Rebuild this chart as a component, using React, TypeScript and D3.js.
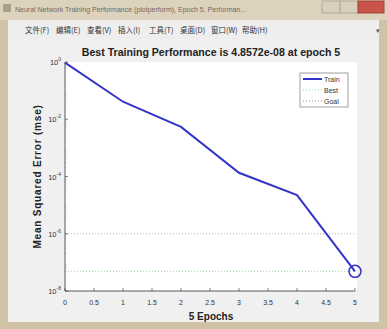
import React from 'react';
import * as d3 from 'd3';

// training record
const epochs = [0, 1, 2, 3, 4, 5];
const trainPerf = [0.95, 0.041, 5.4e-3, 1.35e-4, 2.24e-5, 4.8572e-8];
const bestEpoch = 5;
const bestPerf = 4.8572e-8;
const goalPerf = 1e-6;
const xTicks = [0, 0.5, 1, 1.5, 2, 2.5, 3, 3.5, 4, 4.5, 5];
const yTickExps = [0, -2, -4, -6, -8];
const legendItems = ['Train', 'Best', 'Goal'];
const menuItems = ['文件(F)', '编辑(E)', '查看(V)', '插入(I)', '工具(T)', '桌面(D)', '窗口(W)', '帮助(H)'];
const windowTitle = 'Neural Network Training Performance (plotperform), Epoch 5, Performan...';

const W = 387;
const H = 329;
const margin = { left: 65, right: 32, top: 62, bottom: 38 };

export default function App() {
  const x = d3.scaleLinear().domain([0, 5]).range([margin.left, W - margin.right]);
  const y = d3.scaleLog().domain([1e-8, 1]).range([H - margin.bottom, margin.top]);

  const line = d3.line<number>()
    .x((_, i) => x(epochs[i]))
    .y(d => y(d));

  const minor: number[] = [];
  for (let e = -8; e < 0; e++) {
    for (let k = 2; k < 10; k++) minor.push(k * Math.pow(10, e));
  }

  const [x0, x1] = x.range();
  const [yb, yt] = y.range();
  const trainColor = '#3434c8';

  return (
    <div style={{ position: 'fixed', left: 0, top: 0 }}>
      <svg width={W} height={H} style={{ display: 'block', fontFamily: 'Liberation Sans, Arial, sans-serif' }}>
        {/* window frame */}
        <rect x={0} y={0} width={W} height={H} fill="#cfc2a6" />
        <rect x={0} y={0} width={W} height={20} fill="#ddd2bd" />
        <rect x={3} y={4} width={8} height={8} fill="#8a7d68" opacity={0.6} />
        <text x={15} y={12} fontSize={7} fill="#6d6a66">{windowTitle}</text>
        <rect x={322} y={1} width={18} height={12} fill="#d8cfbe" stroke="#b5a98f" />
        <rect x={340} y={1} width={18} height={12} fill="#d8cfbe" stroke="#b5a98f" />
        <rect x={358} y={1} width={26} height={12} fill="#c8544a" stroke="#a0443b" />
        {/* menu bar */}
        <rect x={8} y={20} width={W - 16} height={19} fill="#eeeeee" />
        {menuItems.map((m, i) => (
          <text key={m} x={25 + i * 31} y={33} fontSize={7.5} fill="#333"
            fontFamily="Noto Sans CJK SC, sans-serif">{m}</text>
        ))}
        <text x={376} y={33} fontSize={7} fill="#555">▾</text>
        {/* figure background */}
        <rect x={8} y={39} width={W - 16} height={H - 46} fill="#f0f0f0" />
        {/* axes */}
        <rect x={x0} y={yt} width={x1 - x0 + 2} height={yb - yt} fill="#ffffff" />
        <text x={(x0 + x1) / 2 + 1} y={56} textAnchor="middle" fontSize={10.6} fontWeight="bold" fill="#222">
          Best Training Performance is 4.8572e-08 at epoch 5
        </text>
        {/* best & goal lines */}
        <line x1={x0} x2={x1} y1={y(goalPerf)} y2={y(goalPerf)} stroke="#000" strokeDasharray="1,2" strokeWidth={0.8} opacity={0.35} />
        <line x1={x0} x2={x1} y1={y(bestPerf)} y2={y(bestPerf)} stroke="#00a000" strokeDasharray="1,2" strokeWidth={0.8} opacity={0.45} />
        {/* axis lines */}
        <line x1={x0} x2={x0} y1={yt} y2={yb} stroke="#333" strokeWidth={0.8} />
        <line x1={x0} x2={x1} y1={yb} y2={yb} stroke="#333" strokeWidth={0.8} />
        {xTicks.map(t => (
          <g key={t}>
            <line x1={x(t)} x2={x(t)} y1={yb} y2={yb - 3} stroke="#333" strokeWidth={0.6} />
            <text x={x(t)} y={yb + 14} textAnchor="middle" fontSize={7} fill="#333">{t}</text>
          </g>
        ))}
        {minor.map((m, i) => (
          <line key={i} x1={x0} x2={x0 + 1.5} y1={y(m)} y2={y(m)} stroke="#777" strokeWidth={0.3} />
        ))}
        {yTickExps.map(e => (
          <g key={e}>
            <line x1={x0} x2={x0 + 3} y1={y(Math.pow(10, e))} y2={y(Math.pow(10, e))} stroke="#333" strokeWidth={0.6} />
            <text x={x0 - 4} y={y(Math.pow(10, e)) + 3} textAnchor="end" fontSize={7.5} fill="#333">
              10<tspan dy={-4} fontSize={5}>{e}</tspan>
            </text>
          </g>
        ))}
        <text x={(x0 + x1) / 2 + 1} y={320} textAnchor="middle" fontSize={10} fontWeight="bold" fill="#222">5 Epochs</text>
        <text transform={`translate(41,${(yt + yb) / 2}) rotate(-90)`} textAnchor="middle" fontSize={10}
          fontWeight="bold" letterSpacing={0.8} fill="#222">
          Mean Squared Error  (mse)
        </text>
        {/* training curve */}
        <path d={line(trainPerf) || ''} fill="none" stroke={trainColor} strokeWidth={2} />
        <circle cx={x(bestEpoch)} cy={y(bestPerf)} r={6} fill="none" stroke={trainColor} strokeWidth={1.5} />
        {/* legend */}
        <rect x={300} y={73} width={48} height={34} fill="#fff" stroke="#888" strokeWidth={0.8} />
        {legendItems.map((name, i) => (
          <g key={name}>
            <line x1={303} x2={322} y1={79 + i * 11} y2={79 + i * 11}
              stroke={i === 0 ? trainColor : i === 1 ? '#00a000' : '#000'}
              strokeWidth={i === 0 ? 2 : 0.8}
              strokeDasharray={i === 0 ? undefined : '1,2'}
              opacity={i === 0 ? 1 : 0.5} />
            <text x={324} y={81.5 + i * 11} fontSize={7} fill="#333">{name}</text>
          </g>
        ))}
      </svg>
    </div>
  );
}
